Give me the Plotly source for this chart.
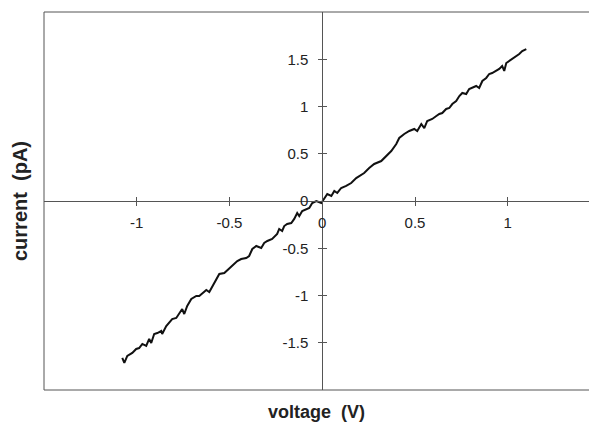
import plotly.graph_objects as go

# Measured I-V trace (voltage in V, current in pA)
voltage = [-1.078, -1.067, -1.051, -1.024, -1.003, -0.987, -0.970, -0.949, -0.933, -0.922,
           -0.906, -0.889, -0.868, -0.863, -0.841, -0.825, -0.809, -0.787, -0.771, -0.755,
           -0.744, -0.728, -0.706, -0.679, -0.663, -0.636, -0.625, -0.609, -0.588,
           -0.571, -0.555, -0.528, -0.501, -0.485, -0.458, -0.437, -0.410, -0.394, -0.377,
           -0.356, -0.329, -0.313, -0.296, -0.270, -0.243, -0.232, -0.216, -0.205, -0.189,
           -0.167, -0.151, -0.135, -0.124, -0.108, -0.086, -0.070, -0.054, -0.032, -0.005,
           0.011, 0.027, 0.049, 0.065, 0.081, 0.102, 0.129, 0.156, 0.183, 0.199,
           0.226, 0.253, 0.280, 0.318, 0.345, 0.372, 0.399,
           0.415, 0.442, 0.469, 0.496, 0.512, 0.534, 0.550, 0.566, 0.593, 0.615,
           0.631, 0.647, 0.668, 0.685, 0.701, 0.722, 0.739, 0.755, 0.776, 0.792,
           0.809, 0.830, 0.846, 0.863, 0.884, 0.900, 0.916, 0.938, 0.954, 0.970,
           0.981, 0.992, 1.008, 1.024, 1.046, 1.062, 1.078, 1.100]
current = [-1.661, -1.714, -1.640, -1.608, -1.566, -1.556, -1.513, -1.534, -1.460, -1.503,
           -1.407, -1.397, -1.376, -1.407, -1.323, -1.291, -1.249, -1.238, -1.196, -1.143,
           -1.196, -1.111, -1.037, -1.005, -1.005, -0.963, -0.942, -0.963, -0.889,
           -0.815, -0.772, -0.762, -0.709, -0.688, -0.635, -0.614, -0.603, -0.582, -0.508,
           -0.476, -0.497, -0.444, -0.423, -0.402, -0.349, -0.296, -0.317, -0.265, -0.243,
           -0.233, -0.190, -0.127, -0.159, -0.106, -0.085, -0.074, -0.021, 0.000, -0.021,
           0.021, 0.074, 0.053, 0.106, 0.085, 0.138, 0.159, 0.190, 0.243, 0.265,
           0.296, 0.349, 0.392, 0.423, 0.476, 0.529, 0.603,
           0.667, 0.709, 0.741, 0.762, 0.741, 0.815, 0.772, 0.847, 0.868, 0.899,
           0.921, 0.931, 0.974, 0.984, 1.026, 1.058, 1.111, 1.143, 1.132, 1.185,
           1.196, 1.217, 1.196, 1.270, 1.302, 1.344, 1.354, 1.376, 1.397, 1.429,
           1.376, 1.460, 1.481, 1.503, 1.534, 1.556, 1.587, 1.608]

x_tickvals = [-1, -0.5, 0, 0.5, 1]
x_ticktext = ["-1", "-0.5", "0", "0.5", "1"]
y_tickvals = [-1.5, -1, -0.5, 0, 0.5, 1, 1.5]
y_ticktext = ["-1.5", "-1", "-0.5", "0", "0.5", "1", "1.5"]

X_RANGE = [-1.5, 1.438]
Y_RANGE = [-2, 2]
FONT = "Arial, Liberation Sans, sans-serif"
AX_COLOR = "#555555"
TXT = "#222222"

fig = go.Figure()
fig.add_trace(go.Scatter(x=voltage, y=current, mode="lines",
                         line=dict(color="#111111", width=2), showlegend=False,
                         hoverinfo="skip"))

# zero positions in paper coords
x0_pos = (0 - X_RANGE[0]) / (X_RANGE[1] - X_RANGE[0])
y0_pos = (0 - Y_RANGE[0]) / (Y_RANGE[1] - Y_RANGE[0])

common = dict(showgrid=False, zeroline=False, automargin=False)

fig.update_layout(
    template="none",
    autosize=False,
    width=589, height=422,
    margin=dict(l=44, r=0, t=12, b=32, pad=0),
    paper_bgcolor="white", plot_bgcolor="white",
    font=dict(family=FONT, size=15, color=TXT),
    xaxis=dict(range=X_RANGE, showline=False, ticks="", showticklabels=False,
               title=dict(text="<b>voltage\u00a0\u00a0(V)</b>",
                          font=dict(size=18, family=FONT, color=TXT), standoff=19), **common),
    yaxis=dict(range=Y_RANGE, showline=False, ticks="", showticklabels=False,
               title=dict(text="<b>current\u00a0\u00a0(pA)</b>",
                          font=dict(size=20, family=FONT, color=TXT), standoff=10), **common),
    # axes through the origin, with labels and outside ticks
    xaxis2=dict(range=X_RANGE, overlaying="x", anchor="free", position=y0_pos,
                showline=True, linecolor=AX_COLOR, linewidth=1,
                ticks="outside", ticklen=4, tickcolor=AX_COLOR,
                tickvals=x_tickvals, ticktext=x_ticktext, side="bottom",
                tickfont=dict(size=15, family=FONT, color=TXT), ticklabelstandoff=4, **common),
    yaxis2=dict(range=Y_RANGE, overlaying="y", anchor="free", position=x0_pos,
                showline=True, linecolor=AX_COLOR, linewidth=1,
                ticks="outside", ticklen=4, tickcolor=AX_COLOR,
                tickvals=y_tickvals, ticktext=y_ticktext, side="left",
                tickfont=dict(size=15, family=FONT, color=TXT), ticklabelstandoff=7, **common),
    # inside ticks so tick marks cross the axes
    xaxis3=dict(range=X_RANGE, overlaying="x", anchor="free", position=y0_pos,
                showline=False, ticks="inside", ticklen=4,
                tickcolor=AX_COLOR, tickvals=x_tickvals, showticklabels=False, side="bottom", **common),
    yaxis3=dict(range=Y_RANGE, overlaying="y", anchor="free", position=x0_pos,
                showline=False, ticks="inside", ticklen=4,
                tickcolor=AX_COLOR, tickvals=y_tickvals, showticklabels=False, side="left", **common),
)

# frame on top, left and bottom only (open on the right, like the scan)
frame = dict(type="line", xref="paper", yref="paper", line=dict(color=AX_COLOR, width=1))
fig.add_shape(x0=0, x1=1, y0=1, y1=1, **frame)
fig.add_shape(x0=0, x1=1, y0=0, y1=0, **frame)
fig.add_shape(x0=0, x1=0, y0=0, y1=1, **frame)

# invisible traces to activate overlay axes
fig.add_trace(go.Scatter(x=[None], y=[None], xaxis="x2", yaxis="y2", showlegend=False))
fig.add_trace(go.Scatter(x=[None], y=[None], xaxis="x3", yaxis="y3", showlegend=False))

fig.write_html("out.html", config={"displayModeBar": False},
               post_script="document.body.style.margin='0';document.body.style.overflow='hidden';")
